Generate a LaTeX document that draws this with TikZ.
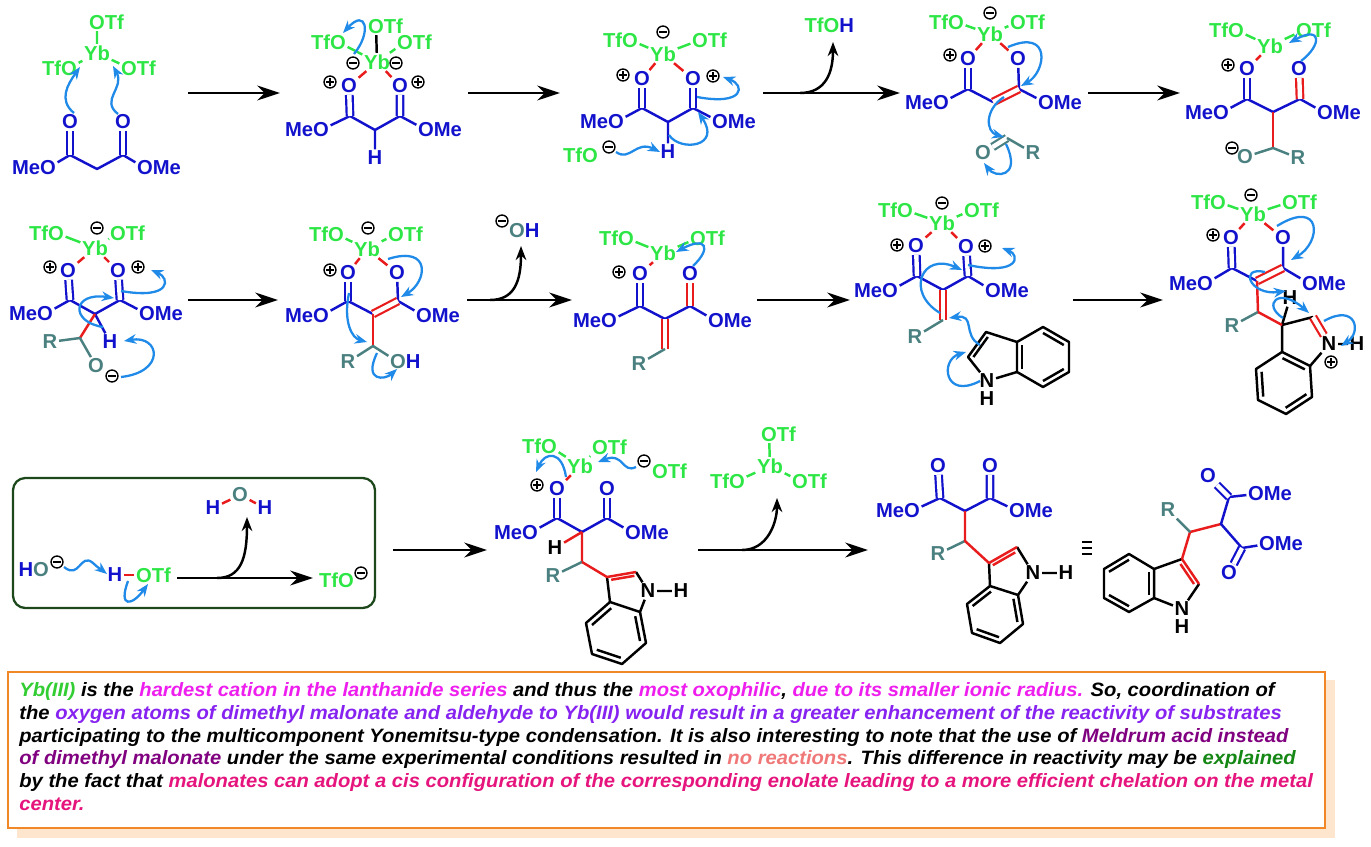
\documentclass[tikz,border=0pt]{standalone}
\usepackage{fontspec}
\setmainfont{Liberation Sans}
\usepackage{xcolor}
\usepackage{graphicx}
\usetikzlibrary{arrows.meta}
\usetikzlibrary{calc}

\definecolor{molblue}{RGB}{18,18,205}
\definecolor{tfgreen}{RGB}{45,230,70}
\definecolor{rteal}{RGB}{75,128,128}
\definecolor{bondred}{RGB}{232,28,28}
\definecolor{arrblue}{RGB}{32,138,232}
\definecolor{boxgreen}{RGB}{28,72,28}
\definecolor{boxorange}{RGB}{242,135,40}
\definecolor{shadowpeach}{RGB}{253,230,205}
\definecolor{txtgreen}{RGB}{50,205,50}
\definecolor{txtmag}{RGB}{238,30,238}
\definecolor{txtviolet}{RGB}{135,35,240}
\definecolor{txtpurple}{RGB}{128,0,128}
\definecolor{txtsalmon}{RGB}{240,120,120}
\definecolor{txtdgreen}{RGB}{20,135,20}
\definecolor{txtpink}{RGB}{230,20,125}

\newcommand\chemfont{\fontsize{11.5}{13}\selectfont\bfseries}
\newcommand\notefont{\fontsize{11}{13}\selectfont\bfseries\itshape}
\newcommand\ringdb[4][black]{\draw[bnd,#1] ($(#2)!0.2!(#4)$) -- ($(#3)!0.2!(#4)$);}

\tikzset{
 atm/.style={inner sep=0.8pt,font=\chemfont},
 bnd/.style={line width=1.4pt,line join=round},
 dbl/.style={line width=1.25pt,double distance=2.5pt},
 rxn/.style={line width=1.4pt,-{Stealth[length=13pt,width=8.5pt]}},
 curly/.style={arrblue,line width=1.3pt,-{Stealth[length=7pt,width=5.5pt]}},
 pushed/.style={line width=1.4pt,-{Stealth[length=8pt,width=6pt]}},
 chg/.style={circle,draw=black,line width=0.8pt,minimum size=6.8pt,inner sep=0pt},
 chplus/.style={chg,path picture={\draw[black,line width=0.8pt] (path picture bounding box.center) +(-2.1pt,0pt) -- +(2.1pt,0pt) (path picture bounding box.center) +(0pt,-2.1pt) -- +(0pt,2.1pt);}},
 chminus/.style={chg,path picture={\draw[black,line width=0.8pt] (path picture bounding box.center) +(-2.1pt,0pt) -- +(2.1pt,0pt);}}
}

\begin{document}
\begin{tikzpicture}[x=0.02cm,y=-0.02cm]
\useasboundingbox (0,0) rectangle (1371,847);

% ---------- row 1 ----------
% malonate + Yb(OTf)3
\node[atm,tfgreen] (s1yb) at (97,53) {Yb};
\node[atm,tfgreen] (s1ot) at (97,22) {O\rlap{Tf}};
\node[atm,tfgreen] (s1ol) at (69,68) {\llap{Tf}O};
\node[atm,tfgreen] (s1or) at (129,68) {O\rlap{Tf}};
\draw[bnd,tfgreen] (s1ot) -- (s1yb) (s1ol) -- (s1yb) (s1or) -- (s1yb);
\coordinate (s1c1) at (70,155);
\coordinate (s1c2) at (97,169);
\coordinate (s1c3) at (123,155);
\node[atm,molblue] (s1o1) at (70,122) {O};
\node[atm,molblue] (s1o2) at (123,122) {O};
\node[atm,molblue] (s1m1) at (48,168) {\llap{Me}O};
\node[atm,molblue] (s1m2) at (145,168) {O\rlap{Me}};
\draw[bnd,molblue] (s1m1) -- (s1c1) -- (s1c2) -- (s1c3) -- (s1m2);
\draw[dbl,molblue] (s1c1) -- (s1o1) (s1c3) -- (s1o2);
\draw[curly] (74,113) .. controls (58,100) and (68,84) .. (80,67);
\draw[curly] (118,114) .. controls (100,100) and (125,88) .. (113,66);
\draw[rxn] (188,93) -- (280,93);

% chelate
\node[atm,tfgreen] (s2yb) at (377,62) {Yb};
\node[atm,tfgreen] (s2ot) at (376,26) {O\rlap{Tf}};
\node[atm,tfgreen] (s2ol) at (338,42) {\llap{Tf}O};
\node[atm,tfgreen] (s2or) at (405,42) {O\rlap{Tf}};
\draw[bnd,tfgreen] (s2ol) -- (s2yb) (s2or) -- (s2yb);
\draw[bnd] (s2ot) -- (s2yb);
\node[chminus] (s2n1) at (353,63) {};
\node[chminus] (s2n2) at (396,63) {};
\node[atm,molblue] (s2o1) at (349,86) {O};
\node[atm,molblue] (s2o2) at (400,86) {O};
\node[chplus] (s2p1) at (330,82) {};
\node[chplus] (s2p2) at (418,82) {};
\draw[bnd,bondred] (s2o1) -- (s2yb) (s2o2) -- (s2yb);
\coordinate (s2c1) at (350,116);
\coordinate (s2c2) at (375,130);
\coordinate (s2c3) at (400,116);
\node[atm,molblue] (s2m1) at (321,130) {\llap{Me}O};
\node[atm,molblue] (s2m2) at (426,130) {O\rlap{Me}};
\node[atm,molblue] (s2h) at (375,158) {H};
\draw[bnd,molblue] (s2m1) -- (s2c1) -- (s2c2) -- (s2c3) -- (s2m2) (s2c2) -- (s2h);
\draw[dbl,molblue] (s2c1) -- (s2o1) (s2c3) -- (s2o2);
\draw[curly] (354,54) .. controls (372,32) and (366,8) .. (343,33);
\draw[rxn] (468,93) -- (560,93);

% deprotonation
\node[atm,tfgreen] (s3yb) at (663,54) {Yb};
\node[chminus] (s3n1) at (663,32) {};
\node[atm,tfgreen] (s3ol) at (630,40) {\llap{Tf}O};
\node[atm,tfgreen] (s3or) at (700,40) {O\rlap{Tf}};
\draw[bnd,tfgreen] (s3ol) -- (s3yb) (s3or) -- (s3yb);
\node[atm,molblue] (s3o1) at (642,79) {O};
\node[atm,molblue] (s3o2) at (693,79) {O};
\node[chplus] (s3p1) at (623,75) {};
\node[chplus] (s3p2) at (713,76) {};
\draw[bnd,bondred] (s3o1) -- (s3yb) (s3o2) -- (s3yb);
\coordinate (s3c1) at (642,108);
\coordinate (s3c2) at (668,122);
\coordinate (s3c3) at (693,108);
\node[atm,molblue] (s3m1) at (616,122) {\llap{Me}O};
\node[atm,molblue] (s3m2) at (720,122) {O\rlap{Me}};
\node[atm,molblue] (s3h) at (668,152) {H};
\draw[bnd,molblue] (s3m1) -- (s3c1) -- (s3c2) -- (s3c3) -- (s3m2) (s3c2) -- (s3h);
\draw[dbl,molblue] (s3c1) -- (s3o1) (s3c3) -- (s3o2);
\node[atm,tfgreen] (s3tf) at (590,155) {\llap{Tf}O};
\node[chminus] (s3n2) at (609,147) {};
\draw[curly] (616,152) .. controls (630,162) and (636,140) .. (660,152);
\draw[curly] (669,135) .. controls (680,152) and (722,147) .. (698,112);
\draw[curly] (697,97) .. controls (745,106) and (745,85) .. (723,77);
\draw[rxn] (763,93) -- (900,93);
\node[atm,tfgreen] (s3toh) at (822,25) {TfO\rlap{\color{molblue}H}};
\draw[pushed] (800,93) .. controls (826,93) and (833,72) .. (833,42);

% enolate attacks aldehyde
\node[atm,tfgreen] (s4yb) at (990,34) {Yb};
\node[chminus] (s4n1) at (990,13) {};
\node[atm,tfgreen] (s4ol) at (956,22) {\llap{Tf}O};
\node[atm,tfgreen] (s4or) at (1018,22) {O\rlap{Tf}};
\draw[bnd,tfgreen] (s4ol) -- (s4yb) (s4or) -- (s4yb);
\node[atm,molblue] (s4o1) at (968,59) {O};
\node[atm,molblue] (s4o2) at (1018,59) {O};
\node[chplus] (s4p1) at (950,55) {};
\draw[bnd,bondred] (s4o1) -- (s4yb) (s4o2) -- (s4yb);
\coordinate (s4c1) at (968,89);
\coordinate (s4c2) at (993,102);
\coordinate (s4c3) at (1019,89);
\node[atm,molblue] (s4m1) at (941,103) {\llap{Me}O};
\node[atm,molblue] (s4m2) at (1046,103) {O\rlap{Me}};
\draw[bnd,molblue] (s4m1) -- (s4c1) -- (s4c2) (s4c3) -- (s4m2) (s4c3) -- (s4o2);
\draw[dbl,molblue] (s4c1) -- (s4o1);
\draw[dbl,bondred] (s4c2) -- (s4c3);
\coordinate (s4c4) at (1007,138);
\node[atm,rteal] (s4o3) at (983,153) {O};
\node[atm,rteal] (s4r) at (1033,153) {R};
\draw[dbl,rteal] (s4c4) -- (s4o3);
\draw[bnd,rteal] (s4c4) -- (s4r);
\draw[curly] (1008,47) .. controls (1052,28) and (1046,72) .. (1021,86);
\draw[curly] (1004,97) .. controls (984,110) and (986,132) .. (1004,137);
\draw[curly] (1006,144) .. controls (1022,178) and (995,178) .. (984,163);
\draw[rxn] (1088,93) -- (1180,93);

% alkoxide
\node[atm,tfgreen] (s5yb) at (1270,46) {Yb};
\node[atm,tfgreen] (s5ol) at (1236,30) {\llap{Tf}O};
\node[atm,tfgreen] (s5or) at (1304,30) {O\rlap{Tf}};
\draw[bnd,tfgreen] (s5ol) -- (s5yb) (s5or) -- (s5yb);
\node[atm,molblue] (s5o1) at (1247,69) {O};
\node[atm,molblue] (s5o2) at (1299,69) {O};
\node[chplus] (s5p1) at (1228,65) {};
\draw[bnd,bondred] (s5o1) -- (s5yb);
\coordinate (s5c1) at (1247,99);
\coordinate (s5c2) at (1273,112);
\coordinate (s5c3) at (1300,99);
\coordinate (s5c4) at (1273,148);
\node[atm,molblue] (s5m1) at (1221,113) {\llap{Me}O};
\node[atm,molblue] (s5m2) at (1325,113) {O\rlap{Me}};
\draw[bnd,molblue] (s5m1) -- (s5c1) -- (s5c2) -- (s5c3) -- (s5m2);
\draw[dbl,molblue] (s5c1) -- (s5o1);
\draw[dbl,bondred] (s5c3) -- (s5o2);
\draw[bnd,bondred] (s5c2) -- (s5c4);
\node[atm,rteal] (s5o3) at (1245,157) {O};
\node[chminus] (s5n1) at (1232,148) {};
\node[atm,rteal] (s5r) at (1298,158) {R};
\draw[bnd,rteal] (s5o3) -- (s5c4) -- (s5r);
\draw[curly] (1301,61) .. controls (1322,45) and (1322,25) .. (1289,43);

% ---------- row 2 ----------
% proton transfer
\node[atm,tfgreen] (s6yb) at (95,248) {Yb};
\node[chminus] (s6n1) at (97,228) {};
\node[atm,tfgreen] (s6ol) at (56,233) {\llap{Tf}O};
\node[atm,tfgreen] (s6or) at (118,233) {O\rlap{Tf}};
\draw[bnd,tfgreen] (s6ol) -- (s6yb) (s6or) -- (s6yb);
\node[atm,molblue] (s6o1) at (68,271) {O};
\node[atm,molblue] (s6o2) at (118,271) {O};
\node[chplus] (s6p1) at (50,267) {};
\node[chplus] (s6p2) at (138,267) {};
\draw[bnd,bondred] (s6o1) -- (s6yb) (s6o2) -- (s6yb);
\coordinate (s6c1) at (70,300);
\coordinate (s6c2) at (95,314);
\coordinate (s6c3) at (120,300);
\coordinate (s6c4) at (80,338);
\node[atm,molblue] (s6m1) at (45,314) {\llap{Me}O};
\node[atm,molblue] (s6m2) at (147,314) {O\rlap{Me}};
\node[atm,molblue] (s6h) at (110,342) {H};
\draw[bnd,molblue] (s6m1) -- (s6c1) -- (s6c2) -- (s6c3) -- (s6m2) (s6c2) -- (s6h);
\draw[dbl,molblue] (s6c1) -- (s6o1) (s6c3) -- (s6o2);
\draw[bnd,bondred] (s6c2) -- (s6c4);
\node[atm,rteal] (s6r) at (50,342) {R};
\node[atm,rteal] (s6o3) at (96,366) {O};
\node[chminus] (s6n2) at (112,376) {};
\draw[bnd,rteal] (s6r) -- (s6c4) -- (s6o3);
\draw[curly] (121,291) .. controls (172,300) and (170,278) .. (151,270);
\draw[curly] (103,327) .. controls (70,322) and (72,292) .. (114,298);
\draw[curly] (121,377) .. controls (166,372) and (160,335) .. (124,341);
\draw[rxn] (188,300) -- (278,300);

% hydroxide loss
\node[atm,tfgreen] (s7yb) at (367,249) {Yb};
\node[chminus] (s7n1) at (368,228) {};
\node[atm,tfgreen] (s7ol) at (336,234) {\llap{Tf}O};
\node[atm,tfgreen] (s7or) at (396,234) {O\rlap{Tf}};
\draw[bnd,tfgreen] (s7ol) -- (s7yb) (s7or) -- (s7yb);
\node[atm,molblue] (s7o1) at (348,273) {O};
\node[atm,molblue] (s7o2) at (397,273) {O};
\node[chplus] (s7p1) at (330,270) {};
\draw[bnd,bondred] (s7o1) -- (s7yb) (s7o2) -- (s7yb);
\coordinate (s7c1) at (348,301);
\coordinate (s7c2) at (373,314);
\coordinate (s7c3) at (398,301);
\coordinate (s7c4) at (373,346);
\node[atm,molblue] (s7m1) at (321,316) {\llap{Me}O};
\node[atm,molblue] (s7m2) at (424,316) {O\rlap{Me}};
\draw[bnd,molblue] (s7m1) -- (s7c1) -- (s7c2) (s7c3) -- (s7m2) (s7c3) -- (s7o2);
\draw[dbl,molblue] (s7c1) -- (s7o1);
\draw[dbl,bondred] (s7c2) -- (s7c3);
\draw[bnd,bondred] (s7c2) -- (s7c4);
\node[atm,rteal] (s7r) at (348,362) {R};
\node[atm,rteal] (s7oh) at (398,362) {O\rlap{\color{molblue}H}};
\draw[bnd,rteal] (s7r) -- (s7c4) -- (s7oh);
\draw[curly] (388,259) .. controls (432,245) and (427,282) .. (401,297);
\draw[curly] (349,293) .. controls (343,322) and (352,338) .. (367,342);
\draw[curly] (377,353) .. controls (363,382) and (385,380) .. (397,369);
\draw[rxn] (467,300) -- (572,300);
\node[atm,rteal] (s7hyd) at (517,231) {O\rlap{\color{molblue}H}};
\node[chminus] (s7n2) at (502,221) {};
\draw[pushed] (490,300) .. controls (514,300) and (521,282) .. (521,246);

% alkylidene malonate
\node[atm,tfgreen] (s8yb) at (663,253) {Yb};
\node[atm,tfgreen] (s8ol) at (626,238) {\llap{Tf}O};
\node[atm,tfgreen] (s8or) at (698,238) {O\rlap{Tf}};
\draw[bnd,tfgreen] (s8ol) -- (s8yb) (s8or) -- (s8yb);
\node[atm,molblue] (s8o1) at (640,274) {O};
\node[atm,molblue] (s8o2) at (690,274) {O};
\node[chplus] (s8p1) at (619,272) {};
\draw[bnd,bondred] (s8o1) -- (s8yb);
\coordinate (s8c1) at (640,306);
\coordinate (s8c2) at (665,319);
\coordinate (s8c3) at (690,306);
\coordinate (s8c4) at (665,349);
\node[atm,molblue] (s8m1) at (609,321) {\llap{Me}O};
\node[atm,molblue] (s8m2) at (716,321) {O\rlap{Me}};
\node[atm,rteal] (s8r) at (639,364) {R};
\draw[bnd,molblue] (s8m1) -- (s8c1) -- (s8c2) -- (s8c3) -- (s8m2);
\draw[dbl,molblue] (s8c1) -- (s8o1);
\draw[dbl,bondred] (s8c3) -- (s8o2) (s8c2) -- (s8c4);
\draw[bnd,rteal] (s8c4) -- (s8r);
\draw[curly] (693,266) .. controls (712,248) and (706,236) .. (676,252);
\draw[rxn] (757,300) -- (850,300);

% indole attack
\node[atm,tfgreen] (s9yb) at (942,223) {Yb};
\node[chminus] (s9n1) at (942,203) {};
\node[atm,tfgreen] (s9ol) at (905,210) {\llap{Tf}O};
\node[atm,tfgreen] (s9or) at (972,210) {O\rlap{Tf}};
\draw[bnd,tfgreen] (s9ol) -- (s9yb) (s9or) -- (s9yb);
\node[atm,molblue] (s9o1) at (916,246) {O};
\node[atm,molblue] (s9o2) at (966,247) {O};
\node[chplus] (s9p1) at (897,245) {};
\node[chplus] (s9p2) at (985,246) {};
\draw[bnd,bondred] (s9o1) -- (s9yb) (s9o2) -- (s9yb);
\coordinate (s9c1) at (917,276);
\coordinate (s9c2) at (943,290);
\coordinate (s9c3) at (968,276);
\coordinate (s9c4) at (943,320);
\node[atm,molblue] (s9m1) at (890,291) {\llap{Me}O};
\node[atm,molblue] (s9m2) at (993,291) {O\rlap{Me}};
\node[atm,rteal] (s9r) at (915,337) {R};
\draw[bnd,molblue] (s9m1) -- (s9c1) -- (s9c2) -- (s9c3) -- (s9m2);
\draw[dbl,molblue] (s9c1) -- (s9o1) (s9c3) -- (s9o2);
\draw[dbl,bondred] (s9c2) -- (s9c4);
\draw[bnd,rteal] (s9c4) -- (s9r);
\coordinate (s9a) at (1017,342);
\coordinate (s9b) at (1043,327);
\coordinate (s9c) at (1069,342);
\coordinate (s9d) at (1069,372);
\coordinate (s9e) at (1043,387);
\coordinate (s9f) at (1017,372);
\coordinate (s9g) at (986,332);
\coordinate (s9h) at (968,357);
\coordinate (s9bz) at (1043,357);
\coordinate (s9pc) at (995,357);
\node[atm] (s9n) at (987,381) {N};
\node[atm] (s9nh) at (987,399) {H};
\draw[bnd] (s9a) -- (s9b) -- (s9c) -- (s9d) -- (s9e) -- (s9f) -- cycle;
\draw[bnd] (s9a) -- (s9g) -- (s9h) -- (s9n) -- (s9f);
\ringdb{s9g}{s9h}{s9pc}
\ringdb{s9b}{s9c}{s9bz}
\ringdb{s9d}{s9e}{s9bz}
\ringdb{s9f}{s9a}{s9bz}
\draw[curly] (968,265) .. controls (1020,276) and (1020,255) .. (1002,248);
\draw[curly] (940,313) .. controls (905,292) and (922,252) .. (962,270);
\draw[curly] (980,345) .. controls (962,335) and (976,314) .. (949,318);
\draw[curly] (980,381) .. controls (944,400) and (940,360) .. (966,352);
\draw[rxn] (1073,300) -- (1163,300);

% indoleninium
\node[atm,tfgreen] (s10yb) at (1253,214) {Yb};
\node[chminus] (s10n1) at (1251,195) {};
\node[atm,tfgreen] (s10ol) at (1218,202) {\llap{Tf}O};
\node[atm,tfgreen] (s10or) at (1290,202) {O\rlap{Tf}};
\draw[bnd,tfgreen] (s10ol) -- (s10yb) (s10or) -- (s10yb);
\node[atm,molblue] (s10o1) at (1231,238) {O};
\node[atm,molblue] (s10o2) at (1283,238) {O};
\node[chplus] (s10p1) at (1213,235) {};
\draw[bnd,bondred] (s10o1) -- (s10yb) (s10o2) -- (s10yb);
\coordinate (s10c1) at (1232,268);
\coordinate (s10c2) at (1257,281);
\coordinate (s10c3) at (1283,268);
\coordinate (s10c4) at (1258,312);
\node[atm,molblue] (s10m1) at (1205,284) {\llap{Me}O};
\node[atm,molblue] (s10m2) at (1310,284) {O\rlap{Me}};
\node[atm,rteal] (s10r) at (1232,326) {R};
\draw[bnd,molblue] (s10m1) -- (s10c1) -- (s10c2) (s10c3) -- (s10m2) (s10c3) -- (s10o2);
\draw[dbl,molblue] (s10c1) -- (s10o1);
\draw[dbl,bondred] (s10c2) -- (s10c3);
\draw[bnd,bondred] (s10c2) -- (s10c4);
\draw[bnd,rteal] (s10c4) -- (s10r);
\coordinate (s10g) at (1282,325);
\coordinate (s10h) at (1313,317);
\coordinate (s10a) at (1282,352);
\coordinate (s10b) at (1256,369);
\coordinate (s10c) at (1258,400);
\coordinate (s10d) at (1286,414);
\coordinate (s10e) at (1312,397);
\coordinate (s10f) at (1310,366);
\coordinate (s10bz) at (1284,383);
\node[atm] (s10n) at (1329,344) {N};
\node[atm] (s10nh) at (1357,344) {H};
\node[atm] (s10hc) at (1290,298) {H};
\node[chplus] (s10p2) at (1331,362) {};
\draw[bnd] (s10a) -- (s10b) -- (s10c) -- (s10d) -- (s10e) -- (s10f) -- cycle;
\draw[bnd] (s10a) -- (s10g) -- (s10h) (s10f) -- (s10n) -- (s10nh) (s10g) -- (s10hc);
\draw[bnd,bondred] (s10c4) -- (s10g);
\draw[dbl,bondred] (s10h) -- (s10n);
\ringdb{s10b}{s10c}{s10bz}
\ringdb{s10d}{s10e}{s10bz}
\ringdb{s10f}{s10a}{s10bz}
\draw[curly] (1277,226) .. controls (1322,198) and (1322,242) .. (1291,260);
\draw[curly] (1265,272) .. controls (1238,266) and (1250,296) .. (1286,291);
\draw[curly] (1283,318) .. controls (1262,305) and (1278,286) .. (1309,313);
\draw[curly] (1324,321) .. controls (1356,303) and (1362,332) .. (1341,346);

% ---------- row 3 ----------
% side reaction in box
\draw[boxgreen,line width=1.3pt,rounded corners=7pt] (13,478) rectangle (375,608);
\node[atm,rteal] (bxo) at (41,570) {\llap{\color{molblue}H}O};
\node[chminus] (bxn1) at (57,562) {};
\node[atm,molblue] (bxh) at (115,575) {H};
\node[atm,tfgreen] (bxo2) at (144,575) {O\rlap{Tf}};
\draw[bnd,bondred] (bxh) -- (bxo2);
\draw[curly] (64,567) .. controls (80,580) and (80,552) .. (93,563) .. controls (98,568) and (102,570) .. (107,574);
\draw[curly] (128,581) .. controls (118,608) and (132,606) .. (148,584);
\draw[rxn] (177,578) -- (313,578);
\node[atm,tfgreen] (bxtf) at (346,580) {\llap{Tf}O};
\node[chminus] (bxn2) at (361,573) {};
\node[atm,rteal] (bxw) at (240,495) {O};
\node[atm,molblue] (bxw1) at (213,508) {H};
\node[atm,molblue] (bxw2) at (265,508) {H};
\draw[bnd,bondred] (bxw1) -- (bxw) -- (bxw2);
\draw[pushed] (217,578) .. controls (241,578) and (247,558) .. (247,517);
\draw[rxn] (393,550) -- (487,550);

% catalyst release
\node[atm,tfgreen] (s11yb) at (580,466) {Yb};
\node[atm,tfgreen] (s11ol) at (549,446) {\llap{Tf}O};
\node[atm,tfgreen] (s11or) at (600,447) {O\rlap{Tf}};
\draw[bnd,tfgreen] (s11ol) -- (s11yb) (s11or) -- (s11yb);
\node[atm,molblue] (s11o1) at (557,489) {O};
\node[atm,molblue] (s11o2) at (607,489) {O};
\node[chplus] (s11p1) at (537,485) {};
\draw[bnd,bondred] (s11o1) -- (s11yb);
\node[atm,tfgreen] (s11ot) at (660,471) {O\rlap{Tf}};
\node[chminus] (s11n1) at (644,461) {};
\coordinate (s11c1) at (557,518);
\coordinate (s11c2) at (582,532);
\coordinate (s11c3) at (607,518);
\coordinate (s11c4) at (582,562);
\node[atm,molblue] (s11m1) at (530,533) {\llap{Me}O};
\node[atm,molblue] (s11m2) at (633,533) {O\rlap{Me}};
\node[atm] (s11h) at (555,548) {H};
\node[atm,rteal] (s11r) at (553,576) {R};
\draw[bnd,molblue] (s11m1) -- (s11c1) -- (s11c2) -- (s11c3) -- (s11m2);
\draw[dbl,molblue] (s11c1) -- (s11o1) (s11c3) -- (s11o2);
\draw[bnd,bondred] (s11c2) -- (s11h) (s11c2) -- (s11c4);
\draw[bnd,rteal] (s11c4) -- (s11r);
\coordinate (s11g) at (607,577);
\coordinate (s11k) at (636,572);
\coordinate (s11a) at (610,602);
\coordinate (s11b) at (586,623);
\coordinate (s11c) at (592,654);
\coordinate (s11d) at (622,664);
\coordinate (s11e) at (646,643);
\coordinate (s11f) at (640,612);
\coordinate (s11bz) at (616,633);
\coordinate (s11pc) at (628,591);
\node[atm] (s11n) at (648,591) {N};
\node[atm] (s11nh) at (681,591) {H};
\draw[bnd] (s11a) -- (s11b) -- (s11c) -- (s11d) -- (s11e) -- (s11f) -- cycle;
\draw[bnd] (s11g) -- (s11a) (s11k) -- (s11n) -- (s11f) (s11n) -- (s11nh);
\draw[bnd,bondred] (s11c4) -- (s11g) -- (s11k);
\ringdb[bondred]{s11g}{s11k}{s11pc}
\ringdb{s11a}{s11b}{s11bz}
\ringdb{s11c}{s11d}{s11bz}
\ringdb{s11e}{s11f}{s11bz}
\draw[curly] (566,477) .. controls (562,450) and (545,452) .. (536,472);
\draw[curly] (636,467) .. controls (622,474) and (624,452) .. (598,462);
\draw[rxn] (698,550) -- (868,550);
\node[atm,tfgreen] (ybf) at (770,466) {Yb};
\node[atm,tfgreen] (ybft) at (769,434) {O\rlap{Tf}};
\node[atm,tfgreen] (ybfl) at (737,481) {\llap{Tf}O};
\node[atm,tfgreen] (ybfr) at (800,481) {O\rlap{Tf}};
\draw[bnd,tfgreen] (ybft) -- (ybf) (ybfl) -- (ybf) (ybfr) -- (ybf);
\draw[pushed] (742,550) .. controls (768,550) and (777,522) .. (777,498);

% product
\node[atm,molblue] (s12o1) at (938,466) {O};
\node[atm,molblue] (s12o2) at (990,466) {O};
\coordinate (s12c1) at (940,498);
\coordinate (s12c2) at (965,511);
\coordinate (s12c3) at (990,498);
\coordinate (s12c4) at (965,541);
\node[atm,molblue] (s12m1) at (912,511) {\llap{Me}O};
\node[atm,molblue] (s12m2) at (1017,511) {O\rlap{Me}};
\node[atm,rteal] (s12r) at (938,554) {R};
\draw[bnd,molblue] (s12m1) -- (s12c1) -- (s12c2) -- (s12c3) -- (s12m2);
\draw[dbl,molblue] (s12c1) -- (s12o1) (s12c3) -- (s12o2);
\draw[bnd,rteal] (s12c4) -- (s12r);
\coordinate (s12g) at (989,563);
\coordinate (s12k) at (1017,547);
\coordinate (s12a) at (990,586);
\coordinate (s12b) at (967,604);
\coordinate (s12c) at (972,633);
\coordinate (s12d) at (1000,643);
\coordinate (s12e) at (1023,624);
\coordinate (s12f) at (1018,595);
\coordinate (s12bz) at (995,614);
\coordinate (s12pc) at (1008,574);
\node[atm] (s12n) at (1033,573) {N};
\node[atm] (s12nh) at (1066,573) {H};
\draw[bnd] (s12a) -- (s12b) -- (s12c) -- (s12d) -- (s12e) -- (s12f) -- cycle;
\draw[bnd] (s12g) -- (s12a) (s12k) -- (s12n) -- (s12f) (s12n) -- (s12nh);
\draw[bnd,bondred] (s12c2) -- (s12c4) -- (s12g) -- (s12k);
\ringdb[bondred]{s12g}{s12k}{s12pc}
\ringdb{s12a}{s12b}{s12bz}
\ringdb{s12c}{s12d}{s12bz}
\ringdb{s12e}{s12f}{s12bz}
\draw[line width=1.2pt] (1082,542) -- (1092,542) (1082,548) -- (1092,548) (1082,554) -- (1092,554);

% same product, redrawn
\coordinate (s13a) at (1154,569);
\coordinate (s13b) at (1129,554);
\coordinate (s13c) at (1104,569);
\coordinate (s13d) at (1104,598);
\coordinate (s13e) at (1129,612);
\coordinate (s13f) at (1154,598);
\coordinate (s13g) at (1182,559);
\coordinate (s13k) at (1199,584);
\coordinate (s13bz) at (1129,583);
\coordinate (s13pc) at (1174,584);
\node[atm] (s13n) at (1182,609) {N};
\node[atm] (s13nh) at (1182,627) {H};
\draw[bnd] (s13a) -- (s13b) -- (s13c) -- (s13d) -- (s13e) -- (s13f) -- cycle;
\draw[bnd] (s13g) -- (s13a) (s13k) -- (s13n) -- (s13f);
\draw[bnd,bondred] (s13g) -- (s13k);
\ringdb[bondred]{s13g}{s13k}{s13pc}
\ringdb{s13f}{s13a}{s13bz}
\ringdb{s13b}{s13c}{s13bz}
\ringdb{s13d}{s13e}{s13bz}
\coordinate (s13c4) at (1190,532);
\coordinate (s13c2) at (1221,524);
\coordinate (s13c1) at (1229,497);
\coordinate (s13c3) at (1242,548);
\node[atm,rteal] (s13r) at (1168,510) {R};
\node[atm,molblue] (s13o1) at (1208,476) {O};
\node[atm,molblue] (s13o2) at (1229,573) {O};
\node[atm,molblue] (s13m1) at (1256,494) {O\rlap{Me}};
\node[atm,molblue] (s13m2) at (1267,544) {O\rlap{Me}};
\draw[bnd,bondred] (s13g) -- (s13c4) -- (s13c2);
\draw[bnd,rteal] (s13c4) -- (s13r);
\draw[bnd,molblue] (s13c1) -- (s13c2) -- (s13c3) (s13c1) -- (s13m1) (s13c3) -- (s13m2);
\draw[dbl,molblue] (s13c1) -- (s13o1) (s13c3) -- (s13o2);

% ---------- note ----------
\fill[shadowpeach] (17,680) rectangle (1335,838);
\draw[boxorange,line width=1.3pt,fill=white] (8,672) rectangle (1325,828);
\node[anchor=north west,inner sep=0pt] (note) at (19,680) {\notefont\scalebox{1.045}[1]{\begin{tabular}{@{}l@{}}
{\color{txtgreen}Yb(III)} is the {\color{txtmag}hardest cation in the lanthanide series} and thus the {\color{txtmag}most oxophilic}, {\color{txtmag}due to its smaller ionic radius.} So, coordination of\\
the {\color{txtviolet}oxygen atoms of dimethyl malonate and aldehyde to Yb(III) would result in a greater enhancement of the reactivity of substrates}\\
participating to the multicomponent Yonemitsu-type condensation. It is also interesting to note that the use of {\color{txtpurple}Meldrum acid instead}\\
{\color{txtpurple}of dimethyl malonate} under the same experimental conditions resulted in {\color{txtsalmon}no reactions}. This difference in reactivity may be {\color{txtdgreen}explained}\\
by the fact that {\color{txtpink}malonates can adopt a cis configuration of the corresponding enolate leading to a more efficient chelation on the metal}\\
{\color{txtpink}center.}
\end{tabular}}};
\end{tikzpicture}
\end{document}
